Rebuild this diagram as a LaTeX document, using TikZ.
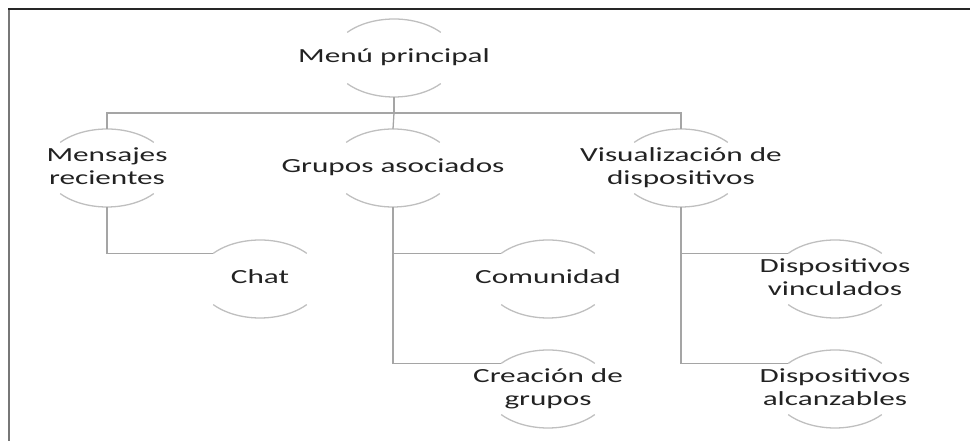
\documentclass[tikz,border=0pt]{standalone}
\usepackage{fontspec}
\setmainfont{Carlito}
\usepackage{graphicx}
\usetikzlibrary{calc}
\definecolor{arcgray}{HTML}{BFBFBF}
\definecolor{linegray}{HTML}{A5A5A5}
\definecolor{txtgray}{HTML}{222222}
\definecolor{framegray}{HTML}{777777}
\newcommand{\ancho}[1]{\scalebox{1.56}[1]{\begin{tabular}{@{}c@{}}#1\end{tabular}}}

\begin{document}
\begin{tikzpicture}[x=1pt,y=1pt]
\tikzset{
  lbl/.style={inner sep=0pt, text=txtgray, font=\fontsize{20}{23}\selectfont},
  ring/.style={draw=arcgray, line width=1.3pt},
  conn/.style={draw=linegray, line width=1.3pt},
}
\useasboundingbox (0,0) rectangle (970,441);
% marco
\draw[line width=1.6pt, framegray] (9,0) -- (9,432.5);
\draw[line width=1.2pt, black!85] (8.2,432) -- (970,432);

% nodos
\node[lbl] (menu) at (394,383) {\ancho{Menú principal}};
\node[lbl] (msg) at (107,273) {\ancho{Mensajes\\recientes}};
\node[lbl] (grp) at (393,273) {\ancho{Grupos asociados}};
\node[lbl] (vis) at (681,273) {\ancho{Visualización de\\dispositivos}};
\node[lbl] (chat) at (260,162) {\ancho{Chat}};
\node[lbl] (com) at (548,162) {\ancho{Comunidad}};
\node[lbl] (crea) at (548,52) {\ancho{Creación de\\grupos}};
\node[lbl] (vinc) at (835,162) {\ancho{Dispositivos\\vinculados}};
\node[lbl] (alc) at (835,52) {\ancho{Dispositivos\\alcanzables}};

% arcos
\foreach \n in {menu,msg,grp,vis,chat,com,crea,vinc,alc} {
  \draw[ring] ($(\n)+(41:62 and 39)$) arc[start angle=41, end angle=139, x radius=62, y radius=39];
  \draw[ring] ($(\n)+(221:62 and 39)$) arc[start angle=221, end angle=319, x radius=62, y radius=39];
}

% conectores
\draw[conn] ($(menu)+(0,-39)$) -- ++(0,-16) coordinate (bus);
\draw[conn] ($(msg)+(0,39)$) |- (bus) -| ($(vis)+(0,39)$);
\draw[conn] (bus) -- ($(grp)+(0,39)$);
\draw[conn] ($(msg)+(0,-39)$) |- ($(chat)+(139:62 and 39)$);
\draw[conn] ($(grp)+(0,-39)$) |- ($(crea)+(139:62 and 39)$);
\draw[conn] ($(grp)+(0,-39)$) |- ($(com)+(139:62 and 39)$);
\draw[conn] ($(vis)+(0,-39)$) |- ($(alc)+(139:62 and 39)$);
\draw[conn] ($(vis)+(0,-39)$) |- ($(vinc)+(139:62 and 39)$);
\end{tikzpicture}
\end{document}
